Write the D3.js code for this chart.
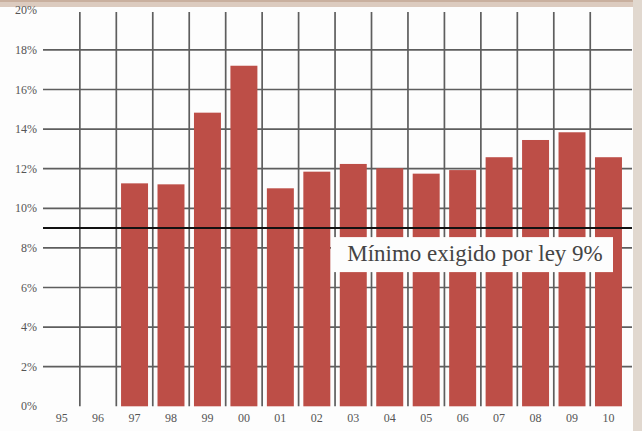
<!DOCTYPE html>
<html lang="es">
<head>
  <meta charset="UTF-8">
  <title>Mínimo exigido por ley</title>
  <script src="https://d3js.org/d3.v7.min.js"></script>
  <style>
    body { margin: 0; background: #fdfdfd; }
  </style>
</head>
<body>
<script>
var width = 642,
    height = 431;

// datos
var years = ["95","96","97","98","99","00","01","02","03","04","05","06","07","08","09","10"];
var ratios = [null, null, 11.26, 11.21, 14.83, 17.2, 11.01, 11.85, 12.24, 12.02, 11.75, 11.93, 12.58, 13.45, 13.84, 12.58];
var yTicks = [0, 2, 4, 6, 8, 10, 12, 14, 16, 18, 20];
var minLegal = 9;
var minLabel = "Mínimo exigido por ley 9%";

var svg = d3.select("body").append("svg")
    .attr("width", width)
    .attr("height", height);

svg.append("rect").attr("width", width).attr("height", height).attr("fill", "#fdfdfd");
// marco beige arriba y a la derecha
svg.append("rect").attr("x", 0).attr("y", 0).attr("width", width).attr("height", 7).attr("fill", "#dccbbf");
svg.append("rect").attr("x", 0).attr("y", 0).attr("width", width).attr("height", 2).attr("fill", "#c9b09f");
svg.append("rect").attr("x", 633).attr("y", 0).attr("width", 9).attr("height", height).attr("fill", "#e1d8cf");

var x = d3.scaleBand()
    .domain(years)
    .range([43.4, 626.7])
    .paddingInner(0.26)
    .paddingOuter(0.13);

var y = d3.scaleLinear()
    .domain([0, 20])
    .range([406.3, 10.3]);

var gap = (x.step() - x.bandwidth()) / 2;

// rejilla horizontal
svg.selectAll(".hgrid")
    .data(yTicks.filter(function(d){ return d > 0 && d < 20; }))
    .enter().append("line")
    .attr("x1", 43).attr("x2", 632)
    .attr("y1", function(d){ return y(d); })
    .attr("y2", function(d){ return y(d); })
    .attr("stroke", "#5e5e5e")
    .attr("stroke-width", 1.7);

// rejilla vertical
svg.selectAll(".vgrid")
    .data(years.slice(1))
    .enter().append("line")
    .attr("x1", function(d){ return x(d) - gap; })
    .attr("x2", function(d){ return x(d) - gap; })
    .attr("y1", 12).attr("y2", y(0))
    .attr("stroke", "#5e5e5e")
    .attr("stroke-width", 1.7);

// barras
svg.selectAll(".bar")
    .data(years.map(function(d, i){ return {year: d, value: ratios[i]}; }).filter(function(d){ return d.value != null; }))
    .enter().append("rect")
    .attr("x", function(d){ return x(d.year); })
    .attr("width", x.bandwidth())
    .attr("y", function(d){ return y(d.value); })
    .attr("height", function(d){ return y(0) - y(d.value); })
    .attr("fill", "#bd4e47");

// etiquetas eje y
svg.selectAll(".ylab")
    .data(yTicks)
    .enter().append("text")
    .attr("x", 37)
    .attr("y", function(d){ return y(d) + 4; })
    .attr("text-anchor", "end")
    .style("font-family", "'Liberation Serif', serif")
    .style("font-size", "12px")
    .style("fill", "#555")
    .text(function(d){ return d + "%"; });

// etiquetas eje x
svg.selectAll(".xlab")
    .data(years)
    .enter().append("text")
    .attr("x", function(d){ return x(d) + x.bandwidth() / 2; })
    .attr("y", 422)
    .attr("text-anchor", "middle")
    .style("font-family", "'Liberation Serif', serif")
    .style("font-size", "12px")
    .style("fill", "#555")
    .text(function(d){ return d; });

// línea del mínimo legal
svg.append("line")
    .attr("x1", 43).attr("x2", 632)
    .attr("y1", y(minLegal)).attr("y2", y(minLegal))
    .attr("stroke", "#111")
    .attr("stroke-width", 2);

svg.append("rect")
    .attr("x", 331).attr("y", y(minLegal) + 9)
    .attr("width", 282).attr("height", 35)
    .attr("fill", "#fdfdfd");

svg.append("text")
    .attr("x", 475).attr("y", y(minLegal) + 33)
    .attr("text-anchor", "middle")
    .style("font-family", "'Liberation Serif', serif")
    .style("font-size", "23px")
    .style("fill", "#444")
    .text(minLabel);
</script>
</body>
</html>
